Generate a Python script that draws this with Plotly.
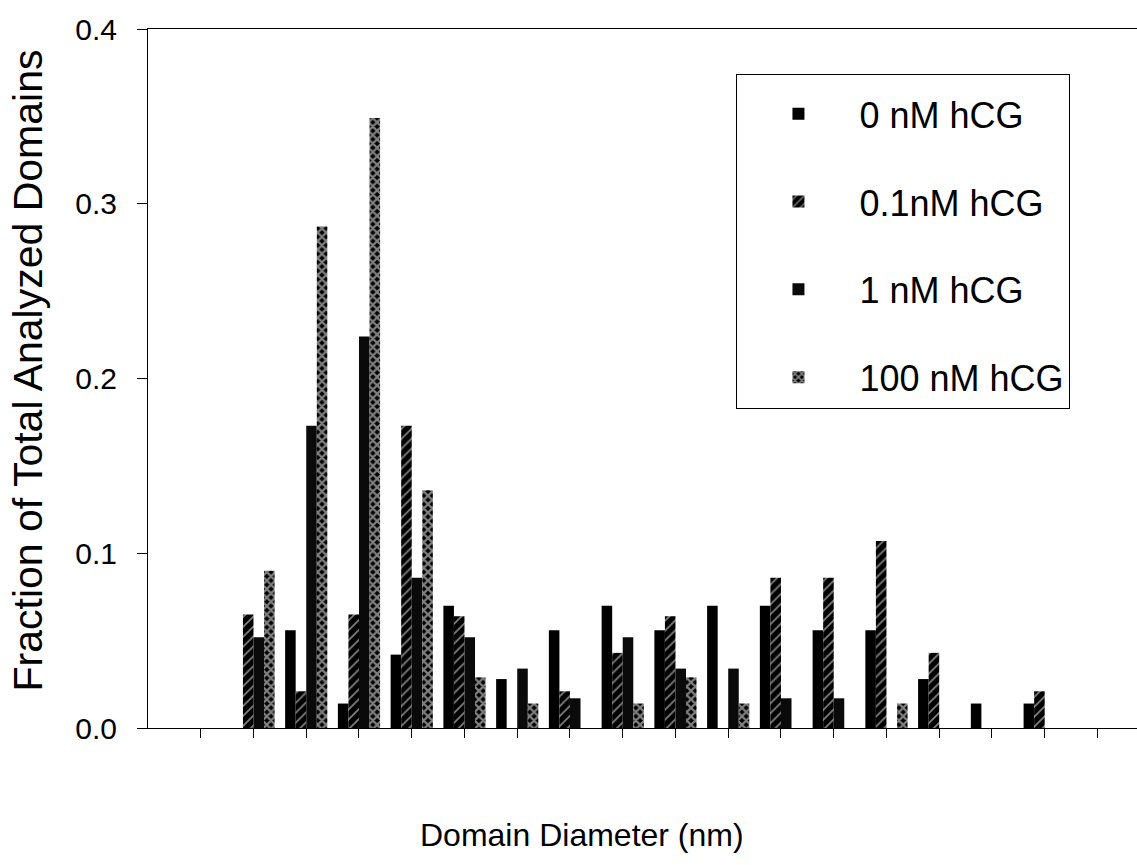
import plotly.graph_objects as go

# Bin index along the (unlabelled) Domain Diameter axis
bins = list(range(1, 19))

series_names = ["0 nM hCG", "0.1nM hCG", "1 nM hCG", "100 nM hCG"]
hcg_0 = [0, 0, 0.056, 0.014, 0.042, 0.070, 0.028, 0.056, 0.070, 0.056, 0.070, 0.070, 0.056, 0.056, 0.028, 0.014, 0.014, 0]
hcg_01 = [0, 0.065, 0.021, 0.065, 0.173, 0.064, 0, 0.021, 0.043, 0.064, 0, 0.086, 0.086, 0.107, 0.043, 0, 0.021, 0]
hcg_1 = [0, 0.052, 0.173, 0.224, 0.086, 0.052, 0.034, 0.017, 0.052, 0.034, 0.034, 0.017, 0.017, 0, 0, 0, 0, 0]
hcg_100 = [0, 0.090, 0.287, 0.349, 0.136, 0.029, 0.014, 0, 0.014, 0.029, 0.014, 0, 0, 0.014, 0, 0, 0, 0]

y_ticks = [0.0, 0.1, 0.2, 0.3, 0.4]

FONT = "Liberation Sans, Arial, sans-serif"

styles = [
    dict(color="black", pattern=dict(shape="")),
    dict(color="black", pattern=dict(shape="/", fgcolor="white", bgcolor="black", size=7, solidity=0.25)),
    dict(color="#0a0a0a", pattern=dict(shape="")),
    dict(color="black", pattern=dict(shape="x", fgcolor="white", bgcolor="black", size=6, solidity=0.6)),
]

fig = go.Figure()
for name, vals, st in zip(series_names, [hcg_0, hcg_01, hcg_1, hcg_100], styles):
    fig.add_trace(go.Bar(
        x=bins, y=vals, name=name, legendgroup=name,
        marker=dict(color=st["color"], pattern=st["pattern"], line=dict(width=0)),
    ))

fig.update_layout(
    width=1137, height=865,
    margin=dict(l=148, r=0, t=29, b=137),
    paper_bgcolor="white", plot_bgcolor="white",
    barmode="group", bargap=0.2, bargroupgap=0.0,
    font=dict(family=FONT, color="black"),
    showlegend=True,
    legend=dict(
        x=0.595, y=0.936, xanchor="left", yanchor="top",
        bordercolor="black", borderwidth=1, bgcolor="white",
        font=dict(size=36, family=FONT),
        tracegroupgap=38, itemwidth=112, entrywidth=340,
        title=dict(text=" ", font=dict(size=7)),
    ),
    xaxis=dict(
        range=[0, 18.75], tickvals=bins, showticklabels=False,
        ticks="outside", ticklen=9, tickwidth=1, tickcolor="black",
        showline=True, linecolor="black", linewidth=1, mirror=True,
        showgrid=False, zeroline=False,
    ),
    yaxis=dict(
        range=[0, 0.4], tickvals=y_ticks, tickformat=".1f",
        ticks="outside", ticklen=10, tickwidth=1, tickcolor="black",
        showline=True, linecolor="black", linewidth=1,
        showgrid=False, zeroline=False,
        tickfont=dict(size=30, family=FONT), ticklabelstandoff=14,
    ),
    annotations=[
        dict(text="Domain Diameter (nm)", xref="paper", yref="paper",
             x=0.439, y=-0.153, xanchor="center", yanchor="middle",
             showarrow=False, font=dict(size=32, family=FONT)),
        dict(text="Fraction of Total Analyzed Domains", xref="paper", yref="paper",
             x=-0.121, y=0.512, xanchor="center", yanchor="middle", textangle=-90,
             showarrow=False, font=dict(size=41, family=FONT)),
    ],
)

fig.write_html("out.html")
